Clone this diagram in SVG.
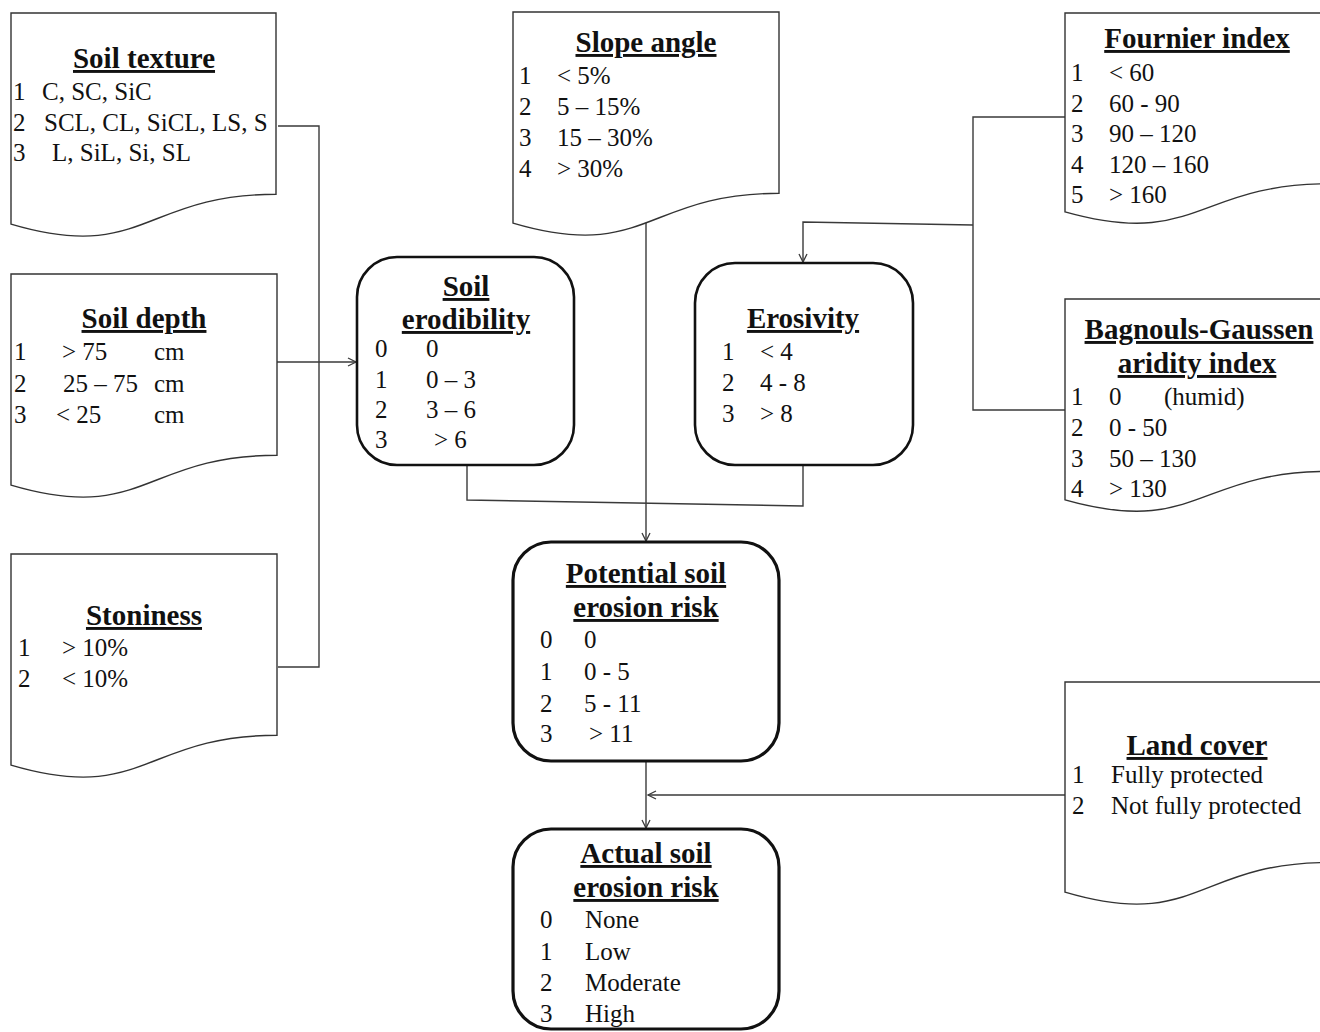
<svg xmlns="http://www.w3.org/2000/svg" width="1320" height="1032" viewBox="0 0 1320 1032">
<defs>
<style>
.t{font-size:29px;font-weight:bold;text-anchor:middle;text-decoration:underline;}
.r{font-size:25px;}
.doc{fill:#fff;stroke:#333;stroke-width:1.4;}
.box{fill:#fff;stroke:#111;stroke-width:2.6;}
.box2{fill:#fff;stroke:#111;stroke-width:3.2;}
.c{fill:none;stroke:#3a3a3a;stroke-width:1.4;}
</style>
<marker id="arr" markerUnits="userSpaceOnUse" markerWidth="12" markerHeight="12" refX="9" refY="5" orient="auto" viewBox="0 0 12 10">
<path d="M1,1 L9,5 L1,9" fill="none" stroke="#3a3a3a" stroke-width="1.3"/>
</marker>
</defs>
<rect width="1320" height="1032" fill="#fff"/>

<g id="connectors">
<path class="c" d="M278,126 H319 V667 H278"/>
<path class="c" d="M277,362 H356" marker-end="url(#arr)"/>
<path class="c" d="M467,465 V500 L803,506 V465"/>
<path class="c" d="M646,223 V541" marker-end="url(#arr)"/>
<path class="c" d="M1065,117 H973 V410 H1065"/>
<path class="c" d="M973,225 L803,222 V262" marker-end="url(#arr)"/>
<path class="c" d="M646,761 V828" marker-end="url(#arr)"/>
<path class="c" d="M1065,795 H648" marker-end="url(#arr)"/>
</g>

<g font-family="Liberation Serif, Times New Roman, serif" fill="#111">
<g id="soil-texture">
<path class="doc" d="M11,13 H276 V194.3 C143.5,194.3 143.5,263.3 11,224.1 Z"/>
<text class="t" x="144" y="68">Soil texture</text>
<text class="r" x="13" y="100">1</text><text class="r" x="42" y="100">C, SC, SiC</text>
<text class="r" x="13" y="131">2</text><text class="r" x="44" y="131">SCL, CL, SiCL, LS, S</text>
<text class="r" x="13" y="161">3</text><text class="r" x="52" y="161">L, SiL, Si, SL</text>
</g>

<g id="soil-depth">
<path class="doc" d="M11,274 H277 V455.3 C144,455.3 144,524.3 11,485.1 Z"/>
<text class="t" x="144" y="328">Soil depth</text>
<text class="r" x="14" y="360">1</text><text class="r" x="62" y="360">&gt; 75</text><text class="r" x="154" y="360">cm</text>
<text class="r" x="14" y="392">2</text><text class="r" x="63" y="392">25 – 75</text><text class="r" x="154" y="392">cm</text>
<text class="r" x="14" y="423">3</text><text class="r" x="56" y="423">&lt; 25</text><text class="r" x="154" y="423">cm</text>
</g>

<g id="stoniness">
<path class="doc" d="M11,554 H277 V735.3 C144,735.3 144,804.3 11,765.1 Z"/>
<text class="t" x="144" y="625">Stoniness</text>
<text class="r" x="18" y="656">1</text><text class="r" x="62" y="656">&gt; 10%</text>
<text class="r" x="18" y="687">2</text><text class="r" x="62" y="687">&lt; 10%</text>
</g>

<g id="slope-angle">
<path class="doc" d="M513,12 H779 V193.3 C646,193.3 646,262.3 513,223.1 Z"/>
<text class="t" x="646" y="52">Slope angle</text>
<text class="r" x="519" y="84">1</text><text class="r" x="557" y="84">&lt; 5%</text>
<text class="r" x="519" y="115">2</text><text class="r" x="557" y="115">5 – 15%</text>
<text class="r" x="519" y="146">3</text><text class="r" x="557" y="146">15 – 30%</text>
<text class="r" x="519" y="177">4</text><text class="r" x="557" y="177">&gt; 30%</text>
</g>

<g id="fournier-index">
<path class="doc" d="M1065,13 H1329 V183.8 C1197,183.8 1197,248.9 1065,211.9 Z"/>
<text class="t" x="1197" y="48">Fournier index</text>
<text class="r" x="1071" y="81">1</text><text class="r" x="1109" y="81">&lt; 60</text>
<text class="r" x="1071" y="112">2</text><text class="r" x="1109" y="112">60 - 90</text>
<text class="r" x="1071" y="142">3</text><text class="r" x="1109" y="142">90 – 120</text>
<text class="r" x="1071" y="173">4</text><text class="r" x="1109" y="173">120 – 160</text>
<text class="r" x="1071" y="203">5</text><text class="r" x="1109" y="203">&gt; 160</text>
</g>

<g id="bagnouls-gaussen">
<path class="doc" d="M1065,299 H1329 V471.4 C1197,471.4 1197,537.1 1065,499.8 Z"/>
<text class="t" x="1199" y="339">Bagnouls-Gaussen</text>
<text class="t" x="1197" y="373">aridity index</text>
<text class="r" x="1071" y="405">1</text><text class="r" x="1109" y="405">0</text><text class="r" x="1164" y="405">(humid)</text>
<text class="r" x="1071" y="436">2</text><text class="r" x="1109" y="436">0 - 50</text>
<text class="r" x="1071" y="467">3</text><text class="r" x="1109" y="467">50 – 130</text>
<text class="r" x="1071" y="497">4</text><text class="r" x="1109" y="497">&gt; 130</text>
</g>

<g id="land-cover">
<path class="doc" d="M1065,682 H1329 V862.5 C1197,862.5 1197,931.2 1065,892.2 Z"/>
<text class="t" x="1197" y="755">Land cover</text>
<text class="r" x="1072" y="783">1</text><text class="r" x="1111" y="783">Fully protected</text>
<text class="r" x="1072" y="814">2</text><text class="r" x="1111" y="814">Not fully protected</text>
</g>

<g id="soil-erodibility">
<rect class="box" x="357" y="257" width="217" height="208" rx="40"/>
<text class="t" x="466" y="296">Soil</text>
<text class="t" x="466" y="329">erodibility</text>
<text class="r" x="375" y="357">0</text><text class="r" x="426" y="357">0</text>
<text class="r" x="375" y="388">1</text><text class="r" x="426" y="388">0 – 3</text>
<text class="r" x="375" y="418">2</text><text class="r" x="426" y="418">3 – 6</text>
<text class="r" x="375" y="448">3</text><text class="r" x="434" y="448">&gt; 6</text>
</g>

<g id="erosivity">
<rect class="box" x="695" y="263" width="218" height="202" rx="40"/>
<text class="t" x="803" y="328">Erosivity</text>
<text class="r" x="722" y="360">1</text><text class="r" x="760" y="360">&lt; 4</text>
<text class="r" x="722" y="391">2</text><text class="r" x="760" y="391">4 - 8</text>
<text class="r" x="722" y="422">3</text><text class="r" x="760" y="422">&gt; 8</text>
</g>

<g id="potential-risk">
<rect class="box2" x="513" y="542" width="266" height="219" rx="38"/>
<text class="t" x="646" y="583">Potential soil</text>
<text class="t" x="646" y="617">erosion risk</text>
<text class="r" x="540" y="648">0</text><text class="r" x="584" y="648">0</text>
<text class="r" x="540" y="680">1</text><text class="r" x="584" y="680">0 - 5</text>
<text class="r" x="540" y="712">2</text><text class="r" x="584" y="712">5 - 11</text>
<text class="r" x="540" y="742">3</text><text class="r" x="589" y="742">&gt; 11</text>
</g>

<g id="actual-risk">
<rect class="box2" x="513" y="829" width="266" height="200" rx="38"/>
<text class="t" x="646" y="863">Actual soil</text>
<text class="t" x="646" y="897">erosion risk</text>
<text class="r" x="540" y="928">0</text><text class="r" x="585" y="928">None</text>
<text class="r" x="540" y="960">1</text><text class="r" x="585" y="960">Low</text>
<text class="r" x="540" y="991">2</text><text class="r" x="585" y="991">Moderate</text>
<text class="r" x="540" y="1022">3</text><text class="r" x="585" y="1022">High</text>
</g>
</g>
</svg>
